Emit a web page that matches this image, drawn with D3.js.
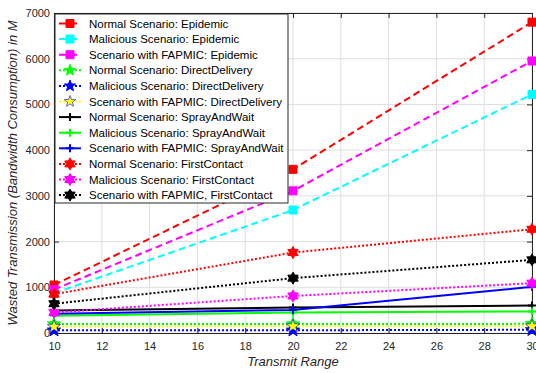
<!DOCTYPE html>
<html><head><meta charset="utf-8">
<script src="https://cdn.jsdelivr.net/npm/d3@7"></script>
<style>body{margin:0;background:#fff;}svg{display:block;font-family:"Liberation Sans",Arial,sans-serif;}</style>
</head><body><svg id="c" width="536" height="373"></svg>
<script>
const xValues = [10, 20, 30];
const xTicks = [10, 12, 14, 16, 18, 20, 22, 24, 26, 28, 30];
const yTicks = [0, 1000, 2000, 3000, 4000, 5000, 6000, 7000];
const normalEpidemic = [1050, 3580, 6800];
const maliciousEpidemic = [870, 2690, 5220];
const fapmicEpidemic = [950, 3110, 5950];
const normalDirect = [195, 195, 200];
const maliciousDirect = [60, 60, 70];
const fapmicDirect = [140, 150, 150];
const normalSpray = [490, 560, 600];
const maliciousSpray = [380, 450, 470];
const fapmicSpray = [420, 505, 1010];
const normalFirst = [850, 1760, 2270];
const maliciousFirst = [450, 810, 1090];
const fapmicFirst = [640, 1200, 1600];
const seriesNames = [
 "Normal Scenario: Epidemic","Malicious Scenario: Epidemic","Scenario with FAPMIC: Epidemic",
 "Normal Scenario: DirectDelivery","Malicious Scenario: DirectDelivery","Scenario with FAPMIC: DirectDelivery",
 "Normal Scenario: SprayAndWait","Malicious Scenario: SprayAndWait","Scenario with FAPMIC: SprayAndWait",
 "Normal Scenario: FirstContact","Malicious Scenario: FirstContact","Scenario with FAPMIC, FirstContact"];
const seriesValues = [normalEpidemic, maliciousEpidemic, fapmicEpidemic, normalDirect, maliciousDirect, fapmicDirect,
 normalSpray, maliciousSpray, fapmicSpray, normalFirst, maliciousFirst, fapmicFirst];
const colors = ["#ff0000","#00ffff","#ff00ff","#00ff00","#0000ff","#ffff00","#000000","#00ff00","#0000ff","#ff0000","#ff00ff","#000000"];
const styles = ["dash","dash","dash","dot","dot","dot","solid","solid","solid","dot","dot","dot"];
const markers = ["square","square","square","star5","star5","star5","plus","plus","plus","star6","star6","star6"];

const svg = d3.select("#c");
const L = 54, R = 532, T = 13, B = 333;
const x = d3.scaleLinear().domain([10, 30]).range([L, R]);
const y = d3.scaleLinear().domain([0, 7000]).range([B, T]);

// grid
svg.append("g").selectAll("line").data(xTicks).join("line")
 .attr("x1", d => x(d)).attr("x2", d => x(d)).attr("y1", T).attr("y2", B)
 .attr("stroke", "#dedede").attr("stroke-width", 1);
svg.append("g").selectAll("line").data(yTicks).join("line")
 .attr("x1", L).attr("x2", R).attr("y1", d => y(d)).attr("y2", d => y(d))
 .attr("stroke", "#dedede").attr("stroke-width", 1);

// axes
const axisColor = "#262626";
const fmt = d3.format("d");
const gx = svg.append("g").attr("transform", `translate(0,${B})`)
 .call(d3.axisBottom(x).tickValues(xTicks).tickFormat(fmt).tickSizeInner(-5).tickSizeOuter(0).tickPadding(9));
const gy = svg.append("g").attr("transform", `translate(${L},0)`)
 .call(d3.axisLeft(y).tickValues(yTicks).tickFormat(fmt).tickSizeInner(-5).tickSizeOuter(0).tickPadding(4));
const gx2 = svg.append("g").attr("transform", `translate(0,${T})`)
 .call(d3.axisTop(x).tickValues(xTicks).tickSizeInner(-5).tickSizeOuter(0).tickFormat(""));
const gy2 = svg.append("g").attr("transform", `translate(${R},0)`)
 .call(d3.axisRight(y).tickValues(yTicks).tickSizeInner(-5).tickSizeOuter(0).tickFormat(""));
[gx, gy, gx2, gy2].forEach(g => {
 g.selectAll("path").attr("stroke", axisColor).attr("stroke-width", 1);
 g.selectAll("line").attr("stroke", axisColor);
 g.selectAll("text").attr("fill", axisColor).attr("font-size", "11px").attr("font-family", "Liberation Sans, Arial, sans-serif");
});

function dashArr(s){ return s === "dash" ? "7,4" : s === "dot" ? "2,2" : null; }
function starPath(n, ro, ri){
 let p = "";
 for (let i = 0; i < 2*n; i++) { const a = -Math.PI/2 + i*Math.PI/n; const r = i%2 ? ri : ro;
  p += (i ? "L" : "M") + (r*Math.cos(a)).toFixed(2) + "," + (r*Math.sin(a)).toFixed(2); }
 return p + "Z";
}
function markerPath(type, s){
 if (type === "square") return d3.symbol(d3.symbolSquare, s * s)();
 if (type === "star5") return starPath(5, s/2, s/2*0.42);
 if (type === "plus") { const h = s/2; return `M${-h},0L${h},0M0,${-h}L0,${h}`; }
 if (type === "star6") return starPath(6, s/2, s/2*0.58);
}
const markerSize = {square: 8, star5: 14, plus: 8, star6: 12};
function drawMarker(g, type, color, cx, cy, scale){
 const p = g.append("path").attr("d", markerPath(type, markerSize[type] * (scale || 1))).attr("transform", `translate(${cx},${cy})`);
 if (type === "plus") p.attr("fill", "none").attr("stroke", color).attr("stroke-width", 2);
 else if (type === "star5") p.attr("fill", color).attr("stroke", color === "#ffff00" ? "#0000ff" : color).attr("stroke-width", color === "#ffff00" ? 0.6 : 1);
 else p.attr("fill", color).attr("stroke", color).attr("stroke-width", 1);
}

const line = d3.line().x((d, i) => x(xValues[i])).y(d => y(d));
const plot = svg.append("g");
seriesValues.forEach((vals, k) => {
 plot.append("path").datum(vals).attr("d", line).attr("fill", "none")
  .attr("stroke", colors[k]).attr("stroke-width", 2).attr("stroke-dasharray", dashArr(styles[k]));
 vals.forEach((v, i) => drawMarker(plot, markers[k], colors[k], x(xValues[i]), y(v)));
});

// legend
const lg = svg.append("g");
const lx = 55, ly = 14, lw = 233, lh = 189, rowH = 15.6;
lg.append("rect").attr("x", lx).attr("y", ly).attr("width", lw).attr("height", lh)
 .attr("fill", "#fff").attr("stroke", "#262626").attr("stroke-width", 1);
seriesNames.forEach((name, k) => {
 const cy = ly + 9.5 + k * rowH;
 lg.append("line").attr("x1", lx + 4).attr("x2", lx + 26).attr("y1", cy).attr("y2", cy)
  .attr("stroke", colors[k]).attr("stroke-width", 2).attr("stroke-dasharray", dashArr(styles[k]));
 drawMarker(lg, markers[k], colors[k], lx + 15, cy, markers[k] === "star5" ? 0.85 : 1);
 lg.append("text").attr("x", lx + 34).attr("y", cy).attr("dy", "0.35em")
  .attr("font-size", "11.5px").attr("fill", "#000").text(name);
});

// axis labels
svg.append("text").attr("x", x(20)).attr("y", 366).attr("text-anchor", "middle")
 .attr("font-size", "13px").attr("font-style", "italic").attr("fill", axisColor).text("Transmit Range");
svg.append("text").attr("transform", `translate(17,${(T + B) / 2}) rotate(-90)`).attr("text-anchor", "middle")
 .attr("font-size", "13px").attr("font-style", "italic").attr("fill", axisColor)
 .text("Wasted Transmission (Bandwidth Consumption) in M");
</script></body></html>
